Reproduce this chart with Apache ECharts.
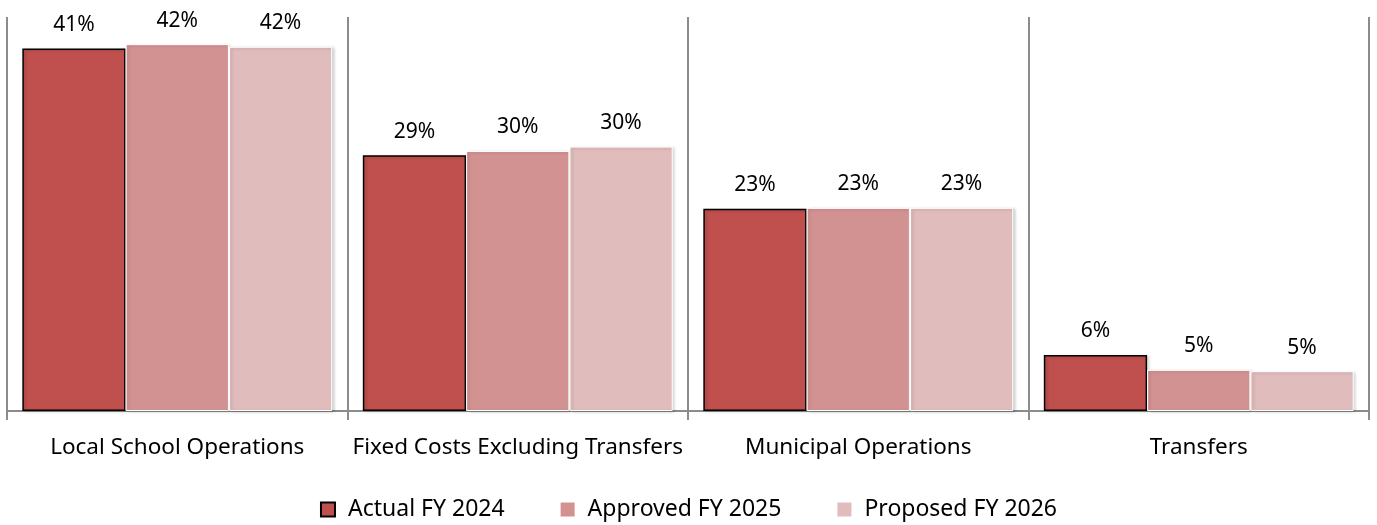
<!DOCTYPE html>
<html>
<head>
<meta charset="utf-8">
<script src="https://cdn.jsdelivr.net/npm/echarts@6/dist/echarts.min.js"></script>
<style>
  html, body { margin: 0; padding: 0; background: #fff; }
  #chart { width: 1377px; height: 525px; }
</style>
</head>
<body>
<div id="chart"></div>
<script>
// categories and shares (percent of budget)
var categories = ['Local School Operations', 'Fixed Costs Excluding Transfers', 'Municipal Operations', 'Transfers'];
var actual2024 = [41.4, 29.2, 23.1, 6.4];
var approved2025 = [41.9, 29.7, 23.2, 4.7];
var proposed2026 = [41.6, 30.2, 23.2, 4.55];

var font = 'Noto Sans';

var myChart = echarts.init(document.getElementById('chart'));

function barSeries(name, data, color, border, borderW) {
  return {
    name: name,
    type: 'bar',
    data: data,
    barGap: 0,
    barCategoryGap: '9%',
    itemStyle: {
      color: color,
      borderColor: border,
      borderWidth: borderW,
      shadowColor: 'rgba(0,0,0,0.18)',
      shadowBlur: 3,
      shadowOffsetX: 2,
      shadowOffsetY: 1
    },
    label: {
      show: true,
      position: 'top',
      distance: 13,
      fontFamily: font,
      fontSize: 21,
      color: '#000',
      formatter: function (p) { return Math.round(p.value) + '%'; }
    }
  };
}

var option = {
  animation: false,
  grid: { left: 7, right: 8, top: 17, bottom: 114 },
  legend: {
    bottom: -1,
    left: 'center',
    icon: 'rect',
    itemWidth: 14,
    itemHeight: 14,
    itemGap: 56,
    textStyle: { fontFamily: font, fontSize: 23, color: '#000', padding: [0, 0, 0, 8] },
    data: [
      { name: 'Actual FY 2024', itemStyle: { borderColor: '#000', borderWidth: 2 } },
      { name: 'Approved FY 2025', itemStyle: { borderWidth: 0 } },
      { name: 'Proposed FY 2026', itemStyle: { borderWidth: 0 } }
    ]
  },
  xAxis: {
    type: 'category',
    data: categories,
    axisLine: { lineStyle: { color: '#8c8c8c', width: 2 } },
    axisTick: { show: true, interval: 0, length: 9, lineStyle: { color: '#8c8c8c', width: 2 } },
    splitLine: { show: true, interval: 0, lineStyle: { color: '#8c8c8c', width: 2 } },
    axisLabel: { interval: 0, fontFamily: font, fontSize: 22.5, color: '#000', margin: 25 }
  },
  yAxis: {
    type: 'value',
    min: 0,
    max: 45,
    axisLine: { show: false },
    axisTick: { show: false },
    axisLabel: { show: false },
    splitLine: { show: false }
  },
  series: [
    barSeries('Actual FY 2024', actual2024, '#C0504D', '#000', 1.5),
    barSeries('Approved FY 2025', approved2025, '#D39292', '#fff', 1),
    barSeries('Proposed FY 2026', proposed2026, '#E0BCBC', '#fff', 1)
  ]
};

myChart.setOption(option);
</script>
</body>
</html>
